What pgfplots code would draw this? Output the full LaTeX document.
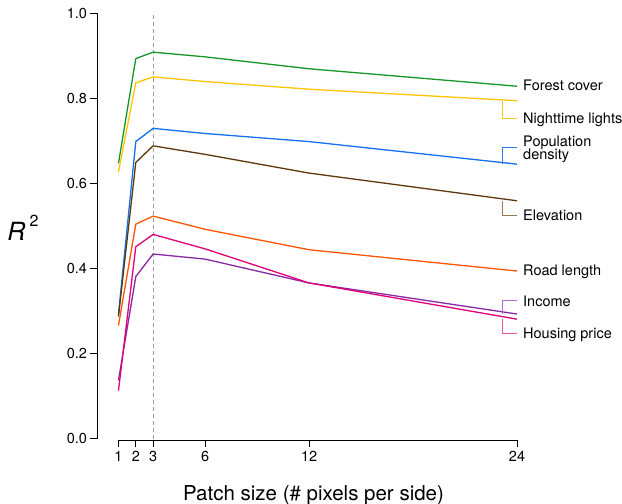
\documentclass[border=0pt]{standalone}
\usepackage{fontspec}
\setmainfont{TeX Gyre Heros}
\usepackage{pgfplots}
\usepackage{pgfplotstable}
\pgfplotsset{compat=1.18}

\definecolor{cforest}{RGB}{22,150,40}
\definecolor{cnight}{RGB}{255,196,0}
\definecolor{cpop}{RGB}{20,112,240}
\definecolor{celev}{RGB}{92,56,12}
\definecolor{croad}{RGB}{255,85,0}
\definecolor{cinc}{RGB}{135,40,165}
\definecolor{chouse}{RGB}{225,0,120}
\definecolor{bnight}{RGB}{255,200,40}
\definecolor{bpop}{RGB}{40,125,240}
\definecolor{belev}{RGB}{150,120,85}
\definecolor{binc}{RGB}{176,110,200}
\definecolor{bhouse}{RGB}{232,85,155}

\pgfplotstableread{
x forest night pop elev road income housing
1 0.647 0.627 0.292 0.287 0.266 0.137 0.113
2 0.893 0.836 0.698 0.649 0.504 0.381 0.451
3 0.908 0.850 0.729 0.688 0.523 0.434 0.480
6 0.897 0.839 0.717 0.668 0.492 0.422 0.446
12 0.869 0.821 0.698 0.624 0.444 0.366 0.366
24 0.828 0.794 0.645 0.559 0.394 0.293 0.281
}\data

\newcommand{\lab}{\fontsize{14.5bp}{17bp}\selectfont}

\begin{document}
\begin{tikzpicture}
\useasboundingbox (0,0) rectangle (622bp,504bp);
\begin{axis}[
  at={(97.5bp,63.5bp)}, anchor=south west,
  scale only axis, width=419.5bp, height=427.5bp,
  xmin=-0.21, xmax=24, ymin=-0.004, ymax=1.0,
  axis x line*=bottom, axis y line*=left,
  axis line style={draw=none},
  xtick={1,2,3,6,12,24},
  ytick={0,0.2,0.4,0.6,0.8,1.0},
  yticklabel style={/pgf/number format/.cd, fixed, fixed zerofill, precision=1},
  /pgf/number format/assume math mode=true,
  tick label style={font=\lab},
  tick align=outside,
  major tick length=7bp,
  tick style={black, line width=0.8bp},
  clip=false,
  every axis plot/.append style={line width=1.3bp, line join=round},
]
\draw[black, line width=0.8bp] (axis cs:1,-0.004) -- (axis cs:24,-0.004);
\draw[black, line width=0.8bp] (axis cs:-0.21,0) -- (axis cs:-0.21,1);
\draw[gray!75, line width=1bp, dash pattern=on 4bp off 3bp] (axis cs:3,0) -- (axis cs:3,1);

\addplot[cforest] table[x=x, y=forest] {\data};
\addplot[cnight] table[x=x, y=night] {\data};
\addplot[cpop] table[x=x, y=pop] {\data};
\addplot[celev] table[x=x, y=elev] {\data};
\addplot[croad] table[x=x, y=road] {\data};
\addplot[cinc] table[x=x, y=income] {\data};
\addplot[chouse] table[x=x, y=housing] {\data};

\draw[bnight, line width=1bp] (axis cs:23.14,0.794) -- (axis cs:23.14,0.7527) -- (axis cs:24,0.7527);
\draw[bpop, line width=1bp] (axis cs:23.14,0.645) -- (axis cs:23.14,0.684) -- (axis cs:24,0.684);
\draw[belev, line width=1bp] (axis cs:23.14,0.559) -- (axis cs:23.14,0.524) -- (axis cs:24,0.524);
\draw[binc, line width=1bp] (axis cs:23.14,0.293) -- (axis cs:23.14,0.324) -- (axis cs:24,0.324);
\draw[bhouse, line width=1bp] (axis cs:23.14,0.281) -- (axis cs:23.14,0.247) -- (axis cs:24,0.247);

\node[anchor=base west, inner sep=0pt, xshift=6bp, yshift=-5.2bp, font=\lab] at (axis cs:24,0.831) {Forest cover};
\node[anchor=base west, inner sep=0pt, xshift=6bp, yshift=-5.2bp, font=\lab] at (axis cs:24,0.7527) {Nighttime lights};
\node[anchor=base west, inner sep=0pt, xshift=6bp, font=\lab] at (axis cs:24,0.6865) {Population};
\node[anchor=base west, inner sep=0pt, xshift=6bp, font=\lab] at (axis cs:24,0.656) {density};
\node[anchor=base west, inner sep=0pt, xshift=6bp, yshift=-5.2bp, font=\lab] at (axis cs:24,0.524) {Elevation};
\node[anchor=base west, inner sep=0pt, xshift=6bp, yshift=-5.2bp, font=\lab] at (axis cs:24,0.3957) {Road length};
\node[anchor=base west, inner sep=0pt, xshift=6bp, yshift=-5.2bp, font=\lab] at (axis cs:24,0.324) {Income};
\node[anchor=base west, inner sep=0pt, xshift=6bp, yshift=-5.2bp, font=\lab] at (axis cs:24,0.247) {Housing price};

\node[anchor=base, inner sep=0pt, yshift=-60bp, font=\fontsize{20.5bp}{24bp}\selectfont] at (rel axis cs:0.515,0) {Patch size (\# pixels per side)};
\node[anchor=center, inner sep=0pt, xshift=-74.5bp, font=\fontsize{25bp}{30bp}\selectfont] at (axis cs:-0.21,0.495) {\textit{R}\,\raisebox{0.55em}{\fontsize{16bp}{18bp}\selectfont 2}};
\end{axis}
\end{tikzpicture}
\end{document}
